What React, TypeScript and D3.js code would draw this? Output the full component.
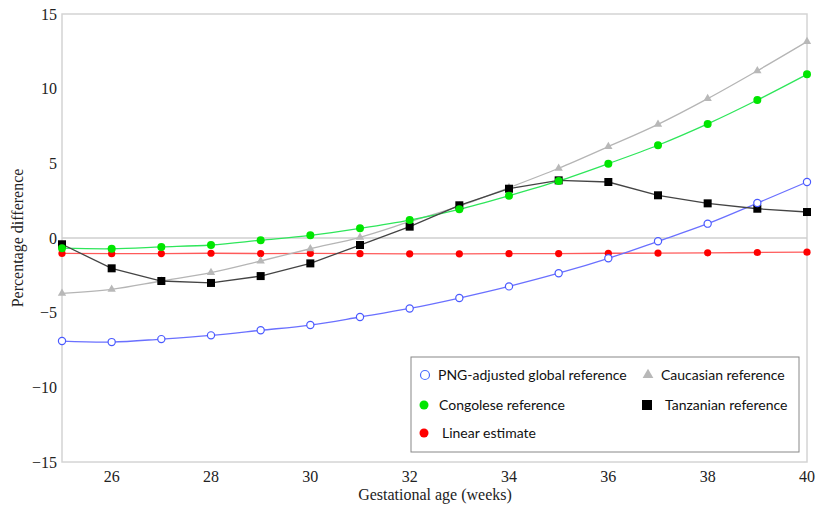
import React from "react";
import * as d3 from "d3";

const weeks = [25, 26, 27, 28, 29, 30, 31, 32, 33, 34, 35, 36, 37, 38, 39, 40];
const pngAdjusted = [-6.9, -6.97, -6.77, -6.52, -6.18, -5.83, -5.29, -4.72, -4.02, -3.24, -2.36, -1.36, -0.22, 0.96, 2.34, 3.75];
const congolese = [-0.68, -0.72, -0.6, -0.47, -0.15, 0.18, 0.65, 1.2, 1.92, 2.83, 3.82, 4.98, 6.21, 7.64, 9.24, 10.96];
const caucasian = [-3.71, -3.44, -2.88, -2.32, -1.54, -0.72, 0.05, 1.09, 2.14, 3.37, 4.67, 6.12, 7.61, 9.33, 11.2, 13.15];
const tanzanian = [-0.42, -2.03, -2.88, -3.01, -2.55, -1.7, -0.47, 0.76, 2.19, 3.3, 3.86, 3.75, 2.86, 2.32, 1.96, 1.74];
const linearEstimate = [-1.03, -1.05, -1.04, -1.02, -1.04, -1.03, -1.05, -1.06, -1.06, -1.05, -1.04, -1.02, -1.01, -0.99, -0.97, -0.95];
const xTicks = [26, 28, 30, 32, 34, 36, 38, 40];
const yTicks = [-15, -10, -5, 0, 5, 10, 15];

const W = 817;
const H = 508;
const m = { left: 62, right: 807, top: 14, bottom: 462 };

export default function App() {
  const x = d3.scaleLinear().domain([25, 40]).range([m.left, m.right]);
  const y = d3.scaleLinear().domain([-15, 15]).range([m.bottom, m.top]);
  const smooth = d3.line<number>().x((_, i) => x(weeks[i])).y((d) => y(d)).curve(d3.curveCatmullRom);
  const straight = d3.line<number>().x((_, i) => x(weeks[i])).y((d) => y(d));
  const serif: React.CSSProperties = { fontFamily: "'Liberation Serif', 'Times New Roman', 'DejaVu Serif', serif", fontSize: 16 };
  const sans: React.CSSProperties = { fontFamily: "Lato, 'Open Sans', sans-serif", fontSize: 14 };
  const tri = d3.symbol().type(d3.symbolTriangle).size(30)() as string;

  return (
    <svg width={W} height={H} style={{ position: "absolute", left: 0, top: 0 }}>
      <rect x={0} y={0} width={W} height={H} fill="#fff" />
      <rect x={m.left} y={m.top} width={m.right - m.left} height={m.bottom - m.top} fill="none" stroke="#d4d4d4" strokeWidth={1.5} />
      <line x1={m.left} x2={m.right} y1={y(0)} y2={y(0)} stroke="#cfcfcf" strokeWidth={1.5} />
      {yTicks.map((t) => (
        <text key={"y" + t} x={57} y={y(t)} dy="0.35em" textAnchor="end" style={serif} fill="#222">
          {t < 0 ? "\u2212" + Math.abs(t) : String(t)}
        </text>
      ))}
      {xTicks.map((t) => (
        <text key={"x" + t} x={x(t)} y={482} textAnchor="middle" style={serif} fill="#222">
          {t}
        </text>
      ))}
      <text x={435} y={500} textAnchor="middle" style={serif} fill="#222">
        Gestational age (weeks)
      </text>
      <text transform={`translate(23,238) rotate(-90)`} textAnchor="middle" style={serif} fill="#222">
        Percentage difference
      </text>

      <path d={straight(linearEstimate) as string} fill="none" stroke="#ff5a5a" strokeWidth={1.3} />
      <path d={smooth(pngAdjusted) as string} fill="none" stroke="#6a70ff" strokeWidth={1.3} />
      <path d={smooth(caucasian) as string} fill="none" stroke="#b5b5b5" strokeWidth={1.3} />
      <path d={smooth(congolese) as string} fill="none" stroke="#2ee65a" strokeWidth={1.3} />
      <path d={straight(tanzanian) as string} fill="none" stroke="#444" strokeWidth={1.3} />

      {linearEstimate.map((v, i) => (
        <circle key={"r" + i} cx={x(weeks[i])} cy={y(v)} r={3.6} fill="#ff0000" />
      ))}
      {caucasian.map((v, i) => (
        <path key={"c" + i} d={tri} transform={`translate(${x(weeks[i])},${y(v)})`} fill="#b8b8b8" />
      ))}
      {tanzanian.map((v, i) => (
        <rect key={"t" + i} x={x(weeks[i]) - 4} y={y(v) - 4} width={8} height={8} fill="#000" />
      ))}
      {congolese.map((v, i) => (
        <circle key={"g" + i} cx={x(weeks[i])} cy={y(v)} r={4} fill="#00e600" />
      ))}
      {pngAdjusted.map((v, i) => (
        <circle key={"b" + i} cx={x(weeks[i])} cy={y(v)} r={3.6} fill="#fff" stroke="#4a5aff" strokeWidth={1.2} />
      ))}

      <g>
        <rect x={411} y={357} width={388} height={95} fill="#fff" stroke="#888" strokeWidth={1} />
        <circle cx={425} cy={375} r={4.5} fill="#fff" stroke="#4a6cff" strokeWidth={1.2} />
        <text x={438} y={375} dy="0.35em" style={sans} fill="#111">PNG-adjusted global reference</text>
        <path d={d3.symbol().type(d3.symbolTriangle).size(50)() as string} transform="translate(648,375)" fill="#b8b8b8" />
        <text x={661} y={375} dy="0.35em" style={sans} fill="#111">Caucasian reference</text>
        <circle cx={424} cy={405} r={4.5} fill="#00e600" />
        <text x={439} y={405} dy="0.35em" style={sans} fill="#111">Congolese reference</text>
        <rect x={642} y={400} width={10} height={10} fill="#000" />
        <text x={665} y={405} dy="0.35em" style={sans} fill="#111">Tanzanian reference</text>
        <circle cx={424} cy={433} r={4.5} fill="#ff0000" />
        <text x={442} y={433} dy="0.35em" style={sans} fill="#111">Linear estimate</text>
      </g>
    </svg>
  );
}
